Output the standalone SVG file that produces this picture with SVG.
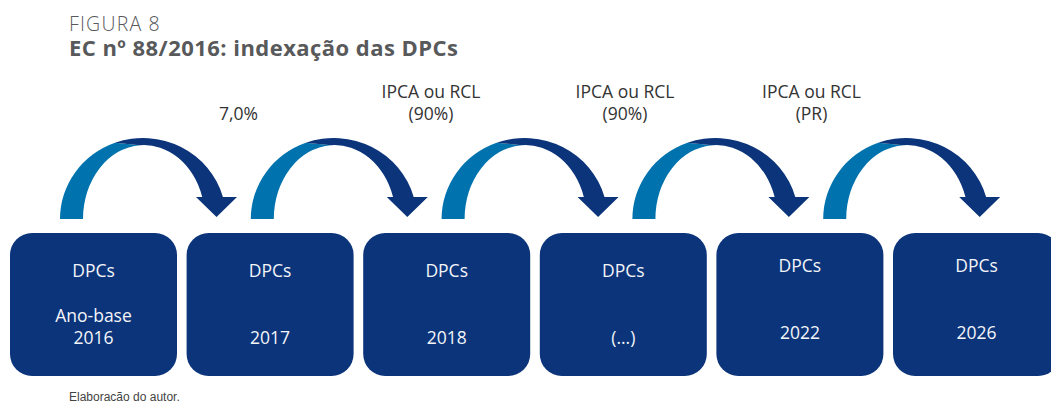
<svg xmlns="http://www.w3.org/2000/svg" xmlns:xlink="http://www.w3.org/1999/xlink" width="1051" height="403" viewBox="0 0 1051 403">
<style>
.box{fill:#0b347a}
.bt{font-family:"Open Sans","Noto Sans","Liberation Sans",sans-serif;font-size:17.5px;fill:#f4f5f9;text-anchor:middle}
.lbl{font-family:"Open Sans","Noto Sans","Liberation Sans",sans-serif;font-size:17.5px;fill:#333333;text-anchor:middle}
.lt{fill:#0073ae}
.dk{fill:#0b347a}
.fig{font-family:"Open Sans","Noto Sans","Liberation Sans",sans-serif;font-weight:300;font-size:19.5px;letter-spacing:1.2px;fill:#58595b}
.ttl{font-family:"Open Sans","Noto Sans","Liberation Sans",sans-serif;font-weight:bold;font-size:22px;fill:#58595b}
.src{font-family:"Liberation Sans","Open Sans",sans-serif;font-size:12px;fill:#444444}
</style>
<defs>
<g id="arrow">
<path class="lt" d="M60,219 A83,81 0 0 1 115,142.75 L140,145.16 A61,74 0 0 0 83,219 Z"/>
<path class="dk" d="M115,142.75 A83,81 0 0 1 222.9,197 L237,197 L216.5,217 L196,197 L202.24,197 A61,74 0 0 0 140,145.16 Z"/>
</g>
</defs>
<rect width="1051" height="403" fill="#ffffff"/>
<g id="title">
<text class="fig" x="69" y="31">FIGURA 8</text>
<text class="ttl" x="69" y="56" textLength="389" lengthAdjust="spacing">EC nº 88/2016: indexação das DPCs</text>
</g>
<g id="connectors">
<use href="#arrow" xlink:href="#arrow"/>
<use href="#arrow" xlink:href="#arrow" transform="translate(190.8,0)"/>
<use href="#arrow" xlink:href="#arrow" transform="translate(381.6,0)"/>
<use href="#arrow" xlink:href="#arrow" transform="translate(572.4,0)"/>
<use href="#arrow" xlink:href="#arrow" transform="translate(763.2,0)"/>
<text class="lbl" x="238.5" y="120">7,0%</text>
<text class="lbl" x="431" y="98">IPCA ou RCL</text>
<text class="lbl" x="431" y="120">(90%)</text>
<text class="lbl" x="625" y="98">IPCA ou RCL</text>
<text class="lbl" x="625" y="120">(90%)</text>
<text class="lbl" x="811.5" y="98">IPCA ou RCL</text>
<text class="lbl" x="811.5" y="120">(PR)</text>
</g>
<g id="node1">
<rect class="box" x="10" y="233" width="167" height="143" rx="22"/>
<text class="bt" x="93.5" y="277">DPCs</text>
<text class="bt" x="93.5" y="321.5">Ano-base</text>
<text class="bt" x="93.5" y="344">2016</text>
</g>
<g id="node2">
<rect class="box" x="186.6" y="233" width="167" height="143" rx="22"/>
<text class="bt" x="270.1" y="277">DPCs</text>
<text class="bt" x="270.1" y="344">2017</text>
</g>
<g id="node3">
<rect class="box" x="363.2" y="233" width="167" height="143" rx="22"/>
<text class="bt" x="446.7" y="277">DPCs</text>
<text class="bt" x="446.7" y="344">2018</text>
</g>
<g id="node4">
<rect class="box" x="539.8" y="233" width="167" height="143" rx="22"/>
<text class="bt" x="623.3" y="277">DPCs</text>
<text class="bt" x="623.3" y="344">(...)</text>
</g>
<g id="node5">
<rect class="box" x="716.4" y="233" width="167" height="143" rx="22"/>
<text class="bt" x="799.9" y="272">DPCs</text>
<text class="bt" x="799.9" y="339">2022</text>
</g>
<g id="node6">
<rect class="box" x="893" y="233" width="167" height="143" rx="22"/>
<text class="bt" x="976.5" y="272">DPCs</text>
<text class="bt" x="976.5" y="339">2026</text>
</g>
<text class="src" x="69" y="401">Elaboracão do autor.</text>
</svg>
